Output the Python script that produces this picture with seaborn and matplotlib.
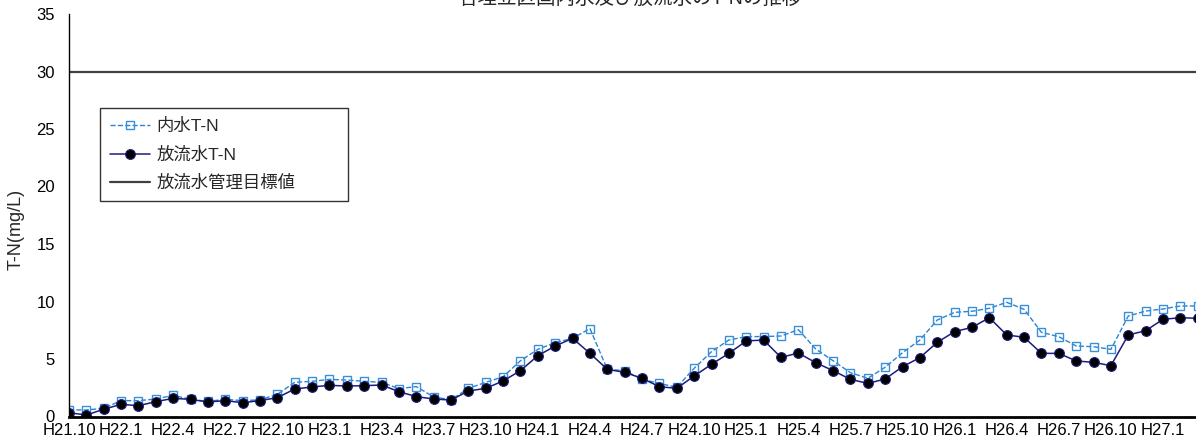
import numpy as np
import pandas as pd
import seaborn as sns
import matplotlib.pyplot as plt

# monthly values H21.10 .. H27.3
naisui = [0.57, 0.57, 0.71, 1.38, 1.38, 1.52, 1.84, 1.49, 1.32, 1.49,
          1.38, 1.45, 1.93, 2.97, 3.06, 3.23, 3.17, 3.06, 2.97, 2.42,
          2.6, 1.7, 1.45, 2.45, 2.97, 3.46, 4.85, 5.84, 6.42, 6.8,
          7.64, 4.1, 3.99, 3.23, 2.88, 2.54, 4.19, 5.64, 6.65, 6.95,
          6.95, 7.0, 7.55, 5.87, 4.85, 3.81, 3.32, 4.28, 5.55, 6.65,
          8.39, 9.06, 9.15, 9.41, 9.93, 9.32, 7.32, 6.94, 6.13, 6.07,
          5.84, 8.74, 9.17, 9.35, 9.61, 9.61]
houryu = [0.33, 0.13, 0.63, 1.06, 0.94, 1.29, 1.58, 1.49, 1.26, 1.38,
          1.2, 1.38, 1.64, 2.39, 2.57, 2.71, 2.65, 2.68, 2.74, 2.16,
          1.73, 1.52, 1.43, 2.22, 2.45, 3.09, 3.99, 5.29, 6.13, 6.8,
          5.49, 4.1, 3.84, 3.32, 2.59, 2.45, 3.52, 4.54, 5.49, 6.57,
          6.65, 5.14, 5.52, 4.68, 3.99, 3.23, 2.88, 3.26, 4.33, 5.12,
          6.45, 7.38, 7.75, 8.59, 7.09, 6.89, 5.49, 5.49, 4.83, 4.71,
          4.42, 7.09, 7.46, 8.45, 8.59, 8.54]
target = 30

tick_labels = ["H21.10", "H22.1", "H22.4", "H22.7", "H22.10", "H23.1", "H23.4",
               "H23.7", "H23.10", "H24.1", "H24.4", "H24.7", "H24.10", "H25.1",
               "H25.4", "H25.7", "H25.10", "H26.1", "H26.4", "H26.7", "H26.10",
               "H27.1"]

df = pd.DataFrame({"month": np.arange(len(naisui)),
                   "naisui": naisui, "houryu": houryu})

sns.set_style("white")
plt.rcParams["font.family"] = ["Liberation Sans", "Noto Sans CJK JP"]

fig = plt.figure(figsize=(11.96, 4.46), dpi=100)
ax = fig.add_axes([69 / 1196, 1 - 416.5 / 446, 1127 / 1196, 402.5 / 446])

sns.lineplot(data=df, x="month", y="naisui", ax=ax, color="#2a84d2",
             linestyle="--", linewidth=1, marker="s", markersize=6,
             markerfacecolor="none", markeredgecolor="#3a90d8",
             markeredgewidth=1, label="内水T-N")
sns.lineplot(data=df, x="month", y="houryu", ax=ax, color="#1c1c7a",
             linewidth=1.1, marker="o", markersize=7,
             markerfacecolor="black", markeredgecolor="#1c1c7a",
             markeredgewidth=0.8, label="放流水T-N")
ax.axhline(target, color="#404040", linewidth=1.6, label="放流水管理目標値")

ax.set_xlim(0, 64.9)
ax.set_ylim(0, 35)
ax.set_yticks(range(0, 36, 5))
ax.set_xticks(np.arange(0, len(tick_labels) * 3, 3))
ax.set_xticklabels(tick_labels)
ax.tick_params(axis="both", direction="in", length=5, color="black",
               labelsize=12, labelcolor="black")
ax.tick_params(axis="y", pad=10)
ax.tick_params(axis="x", pad=5)

for s in ["top", "right"]:
    ax.spines[s].set_visible(False)
ax.spines["left"].set_color("black")
ax.spines["left"].set_linewidth(1)
ax.spines["bottom"].set_color("black")
ax.spines["bottom"].set_linewidth(2)

ax.set_xlabel("")
ax.set_ylabel("T-N(mg/L)", fontsize=13)
ax.yaxis.set_label_coords(-44 / 1127, 0.4646)

leg = ax.legend(loc="upper left",
                bbox_to_anchor=(31 / 1127, 0.757, 248 / 1127, 0.01),
                mode="expand", borderaxespad=0, fontsize=12.5,
                frameon=True, fancybox=False, handlelength=2.3,
                labelspacing=0.7, borderpad=0.6, handletextpad=0.35)
leg.get_frame().set_edgecolor("black")
leg.get_frame().set_linewidth(1)

fig.text(0.527, 1.0035, "各埋立区画内水及び放流水のT-Nの推移", ha="center",
         va="center", fontsize=14)

fig.savefig("out.png", dpi=100)
